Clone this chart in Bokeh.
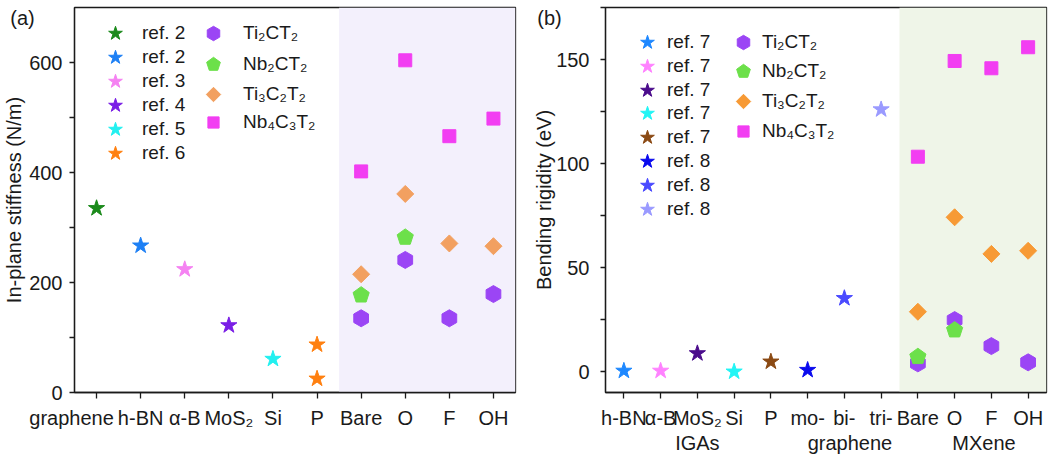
import numpy as np
from bokeh.plotting import figure
from bokeh.layouts import row
from bokeh.models import (Range1d, FixedTicker, LinearAxis,
                          BoxAnnotation, Legend, LegendItem, ColumnDataSource)
from bokeh.embed import file_html
from bokeh.resources import INLINE

FONT = "Liberation Sans"
INK = "#1a1a1a"
NBSP = "\u00a0"

# ---------------- panel (a) data ----------------
cats_a = ["graphene", "h-BN", "α-B", "MoS₂", "Si", "P", "Bare", "O", "F", "OH"]
ref_labels_a = ["ref. 2", "ref. 2", "ref. 3", "ref. 4", "ref. 5", "ref. 6"]
ref_cats_a = [["graphene"], ["h-BN"], ["α-B"], ["MoS₂"], ["Si"], ["P", "P"]]
ref_vals_a = [[335], [267], [224], [122], [61], [87, 25]]
ref_colors_a = ["#1b8a1b", "#1e80f5", "#f582f2", "#7a1ee6", "#22f0f0", "#ff8010"]
yticks_a = [0, 200, 400, 600]
yminor_a = [100, 300, 500]

mx_groups = ["Bare", "O", "F", "OH"]
mx_names = ["Ti₂CT₂", "Nb₂CT₂", "Ti₃C₂T₂", "Nb₄C₃T₂"]
ti2c_a = [135, 241, 135, 179]
nb2c_a = [177, 282, None, None]
ti3c2_a = [215, 361, 271, 266]
nb4c3_a = [402, 604, 466, 498]

# ---------------- panel (b) data ----------------
cats_b = ["h-BN", "α-B", "MoS₂", "Si", "P", "mo-", "bi-", "tri-", "Bare", "O", "F", "OH"]
group_labels_b = ["IGAs", "graphene", "MXene"]
group_pos_b = [3, 7.15, 10.8]
ref_labels_b = ["ref. 7", "ref. 7", "ref. 7", "ref. 7", "ref. 7", "ref. 8", "ref. 8", "ref. 8"]
ref_cats_b = [["h-BN"], ["α-B"], ["MoS₂"], ["Si"], ["P"], ["mo-"], ["bi-"], ["tri-"]]
ref_vals_b = [[0.4], [0.4], [8.8], [0.0], [4.8], [0.8], [35.3], [126]]
ref_colors_b = ["#1e88ff", "#ff82ff", "#4b0c8c", "#22f5f5", "#8b4a14", "#0a0aee", "#4a4aff", "#9a9aff"]
ti2c_b = [4.0, 24.8, 12.3, 4.5]
nb2c_b = [7.2, 20.0, None, None]
ti3c2_b = [28.8, 74.2, 56.6, 58.1]
nb4c3_b = [103.3, 149.3, 145.8, 155.9]
yticks_b = [0, 50, 100, 150]
yminor_b = [-25, 25, 75, 125, 175]

panel_tags = ["(a)", "(b)"]

mx_colors_a = ["#9b45f5", "#6ce04a", "#f2a060", "#f23ef2"]
mx_colors_b = ["#9b45f5", "#6ce04a", "#f79a35", "#f23ef2"]


def style_axes(p):
    for ax in p.axis:
        ax.axis_line_color = INK
        ax.axis_line_width = 1.3
        ax.major_tick_line_color = INK
        ax.major_tick_line_width = 1.3
        ax.minor_tick_line_color = INK
        ax.minor_tick_line_width = 1.3
        ax.major_tick_out = 6
        ax.major_tick_in = 0
        ax.minor_tick_out = 4
        ax.minor_tick_in = 0
        ax.major_label_text_font = FONT
        ax.major_label_text_font_size = "20px"
        ax.major_label_text_color = INK
        ax.axis_label_text_font = FONT
        ax.axis_label_text_font_size = "20px"
        ax.axis_label_text_font_style = "normal"
        ax.axis_label_text_color = INK
    p.xaxis.major_label_standoff = 8


def set_y_axis(p, ticks, minor, tag, tag_y, pad, standoff, label_standoff):
    # the panel tag sits at the top of the y-axis label column; ticks are drawn as
    # minor ticks so that the tag position carries no tick mark
    ax = p.yaxis[0]
    ax.ticker = FixedTicker(ticks=ticks + [tag_y], minor_ticks=sorted(ticks + minor))
    ax.major_label_overrides = {tag_y: tag + NBSP * pad}
    ax.major_tick_out = 0
    ax.minor_tick_out = 5
    ax.major_label_standoff = standoff
    ax.axis_label_standoff = label_standoff


def one_legend(label, rend, vx, vy, gh, standoff):
    return Legend(items=[LegendItem(label=label, renderers=[rend])], location=(vx, vy),
                  border_line_color=None, background_fill_alpha=0, label_text_font=FONT,
                  label_text_font_size="19px", label_text_color=INK,
                  glyph_width=36, glyph_height=gh, spacing=0,
                  padding=0, margin=0, label_standoff=standoff, label_height=20)


def mx_points(p, cats, vals_list, colors):
    rends = []
    shapes = ["hex", "pent", "diamond", "square"]
    for vals, col, shp in zip(vals_list, colors, shapes):
        xs = [cats.index(g) + 1 for g, v in zip(mx_groups, vals) if v is not None]
        ys = [v for v in vals if v is not None]
        src = ColumnDataSource(dict(x=xs, y=ys))
        if shp == "hex":
            r = p.ngon("x", "y", source=src, radius=8.5, radius_units="screen", n=6,
                       angle=0, fill_color=col, line_color=col)
        elif shp == "pent":
            r = p.ngon("x", "y", source=src, radius=8.5, radius_units="screen", n=5,
                       angle=0, fill_color=col, line_color=col)
        elif shp == "diamond":
            r = p.ngon("x", "y", source=src, radius=8.5, radius_units="screen", n=4,
                       angle=0, fill_color=col, line_color=col)
        else:
            r = p.scatter("x", "y", source=src, marker="square", size=13,
                          fill_color=col, line_color=col)
        rends.append(r)
    return rends


def add_legends(p, labels, rends, vx, vys, ghs, standoff):
    for lab, r, vy, gh in zip(labels, rends, vys, ghs):
        p.add_layout(one_legend(lab, r, vx, vy, gh, standoff))


# ---------------- figure (a) ----------------
pa = figure(width=530, height=457, output_backend="svg", toolbar_location=None,
            x_range=Range1d(0.5, 10.5), y_range=Range1d(0, 700),
            min_border_left=73, min_border_right=15, min_border_top=7, min_border_bottom=64,
            background_fill_color="white", border_fill_color="white")
pa.grid.visible = False
pa.outline_line_color = INK
pa.outline_line_width = 1.3
pa.add_layout(BoxAnnotation(left=6.5, fill_color="#f3f0fc", fill_alpha=1, line_alpha=0, level="underlay"))

star_rends_a = []
for lab, cs, vs, col in zip(ref_labels_a, ref_cats_a, ref_vals_a, ref_colors_a):
    src = ColumnDataSource(dict(x=[cats_a.index(c) + 1 for c in cs], y=vs))
    star_rends_a.append(pa.scatter("x", "y", source=src, marker="star", size=17,
                                   fill_color=col, line_color=col))
mx_rends_a = mx_points(pa, cats_a, [ti2c_a, nb2c_a, ti3c2_a, nb4c3_a], mx_colors_a)

labels_a = [c + NBSP * 9 if c == "graphene" else c for c in cats_a]
pa.xaxis.ticker = FixedTicker(ticks=list(range(1, len(cats_a) + 1)))
pa.xaxis.major_label_overrides = {i + 1: c for i, c in enumerate(labels_a)}
pa.yaxis.axis_label = "In-plane stiffness (N/m)"
style_axes(pa)
set_y_axis(pa, yticks_a, yminor_a, panel_tags[0], 681, 5, 7, -18)

add_legends(pa, ref_labels_a, star_rends_a, 23, [341 - 23.9 * i for i in range(6)], [36] * 6, 9)
add_legends(pa, mx_names, mx_rends_a, 121, [341, 310, 280, 256], [36, 36, 36, 28], 12)

# ---------------- figure (b) ----------------
pb = figure(width=522, height=457, output_backend="svg", toolbar_location=None,
            x_range=Range1d(0.5, 12.5), y_range=Range1d(-10, 175),
            min_border_left=74, min_border_right=6, min_border_top=7, min_border_bottom=65,
            background_fill_color="white", border_fill_color="white")
pb.grid.visible = False
pb.outline_line_color = INK
pb.outline_line_width = 1.3
pb.add_layout(BoxAnnotation(left=8.5, fill_color="#eff5e8", fill_alpha=1, line_alpha=0, level="underlay"))

star_rends_b = []
for lab, cs, vs, col in zip(ref_labels_b, ref_cats_b, ref_vals_b, ref_colors_b):
    src = ColumnDataSource(dict(x=[cats_b.index(c) + 1 for c in cs], y=vs))
    star_rends_b.append(pb.scatter("x", "y", source=src, marker="star", size=17,
                                   fill_color=col, line_color=col))
mx_rends_b = mx_points(pb, cats_b, [ti2c_b, nb2c_b, ti3c2_b, nb4c3_b], mx_colors_b)

pb.xaxis.ticker = FixedTicker(ticks=list(range(1, len(cats_b) + 1)))
pb.xaxis.major_label_overrides = {i + 1: c for i, c in enumerate(cats_b)}
pb.yaxis.axis_label = "Bending rigidity (eV)"

grp_axis = LinearAxis(ticker=FixedTicker(ticks=group_pos_b),
                      major_label_overrides={p_: l for p_, l in zip(group_pos_b, group_labels_b)})
pb.add_layout(grp_axis, "below")
style_axes(pb)
grp_axis.axis_line_color = None
grp_axis.major_tick_line_color = None
grp_axis.major_tick_out = 0
grp_axis.major_label_standoff = 0
set_y_axis(pb, yticks_b, yminor_b, panel_tags[1], 170, 5, 11, -21)

add_legends(pb, ref_labels_b, star_rends_b, 24, [332 - 23.8 * i for i in range(8)], [36] * 8, 2)
add_legends(pb, mx_names, mx_rends_b, 120, [332, 303, 273, 247], [36, 36, 36, 28], 1)

layout = row(pa, pb)
open("out.html", "w").write(file_html(layout, INLINE))
